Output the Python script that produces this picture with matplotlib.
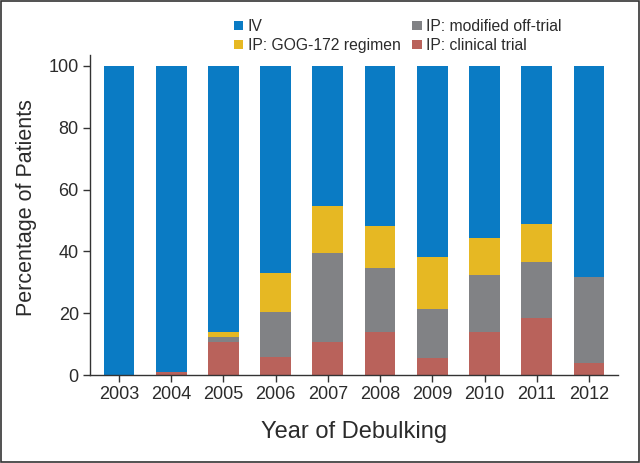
import matplotlib
matplotlib.use('Agg')
import matplotlib.pyplot as plt
import numpy as np

years = ['2003', '2004', '2005', '2006', '2007', '2008', '2009', '2010', '2011', '2012']

# segment heights (%), bottom to top
clinical_trial = [0.0, 1.0, 10.8, 5.9, 10.8, 13.8, 5.4, 13.8, 18.3, 3.8]
modified_off   = [0.0, 0.0, 1.4, 14.5, 28.8, 20.7, 15.9, 18.6, 18.4, 28.0]
gog172         = [0.0, 0.0, 1.7, 12.5, 15.2, 13.8, 16.9, 12.0, 12.2, 0.0]
iv             = [100.0, 99.0, 86.1, 67.1, 45.2, 51.7, 61.8, 55.6, 51.1, 68.2]

c_iv = '#0a7bc4'
c_gog = '#e6b823'
c_mod = '#818285'
c_clin = '#b9625b'
txt = '#2b2b2b'

plt.rcParams['font.family'] = ['Liberation Sans', 'DejaVu Sans']

fig = plt.figure(figsize=(6.4, 4.63), dpi=100)
ax = fig.add_axes([0.1406, 0.190, 0.825, 0.691])

x = np.arange(len(years))
w = 0.59
b1 = np.array(clinical_trial)
b2 = b1 + np.array(modified_off)
b3 = b2 + np.array(gog172)

h_clin = ax.bar(x, clinical_trial, w, color=c_clin, label='IP: clinical trial')
h_mod = ax.bar(x, modified_off, w, bottom=b1, color=c_mod, label='IP: modified off-trial')
h_gog = ax.bar(x, gog172, w, bottom=b2, color=c_gog, label='IP: GOG-172 regimen')
h_iv = ax.bar(x, iv, w, bottom=b3, color=c_iv, label='IV')

ax.set_xlim(-0.556, 9.556)
ax.set_ylim(0, 103.5)
ax.set_yticks([0, 20, 40, 60, 80, 100])
ax.set_xticks(x)
ax.set_xticklabels(years)
ax.spines['top'].set_visible(False)
ax.spines['right'].set_visible(False)
for s in ('left', 'bottom'):
    ax.spines[s].set_color('#333333')
    ax.spines[s].set_linewidth(1.0)
ax.tick_params(direction='out', length=5, width=1.0, color='#333333',
               labelsize=13, labelcolor=txt, pad=3)

ax.set_xlabel('Year of Debulking', fontsize=17, color=txt, labelpad=13)
ax.set_ylabel('Percentage of Patients', fontsize=15.5, color=txt)
ax.yaxis.set_label_coords(-0.100, 0.525)

fig.legend([h_iv, h_gog, h_mod, h_clin],
           ['IV', 'IP: GOG-172 regimen', 'IP: modified off-trial', 'IP: clinical trial'],
           ncol=2, loc='upper left', bbox_to_anchor=(234 / 640, 1 - 19 / 463),
           frameon=False, borderpad=0, borderaxespad=0,
           fontsize=11.3, handlelength=0.58, handleheight=0.58, handletextpad=0.3,
           columnspacing=0.75, labelspacing=0.25, labelcolor=txt)

# thin frame around the whole figure
fig.patches.append(plt.Rectangle((0.002, 0.002), 0.996, 0.996, transform=fig.transFigure,
                                 fill=False, edgecolor='#333333', linewidth=1.2))

fig.savefig('out.png', dpi=100)
